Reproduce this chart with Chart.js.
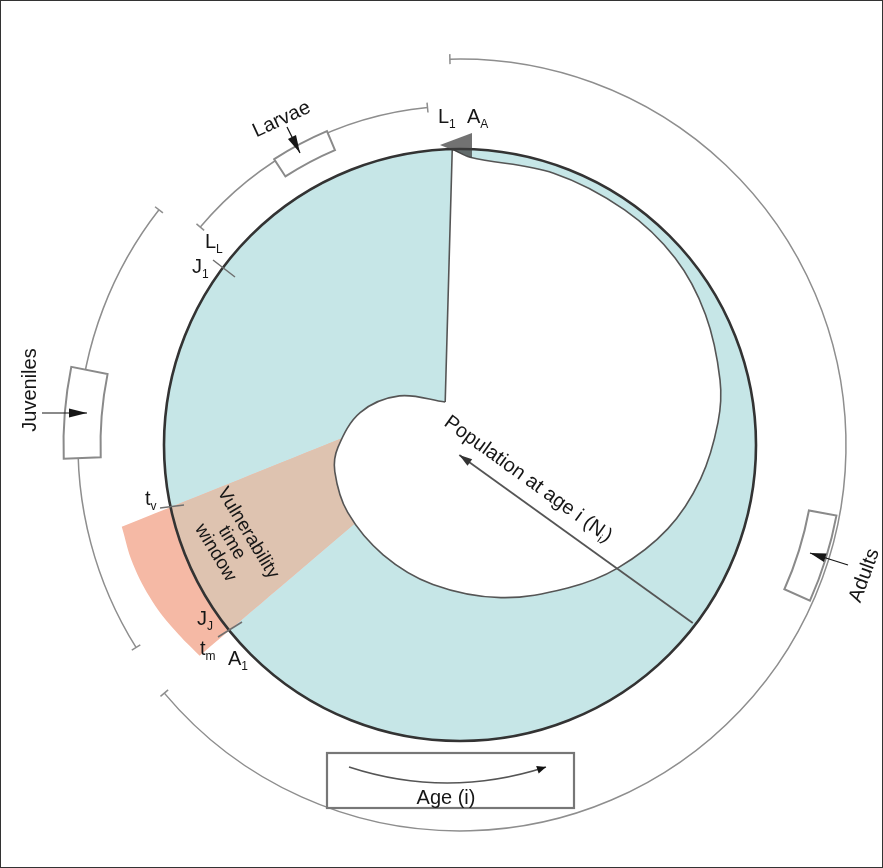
<!DOCTYPE html>
<html>
<head>
<meta charset="utf-8">
<title>Life cycle wheel</title>
<script src="https://cdn.jsdelivr.net/npm/chart.js@4.4.1/dist/chart.umd.min.js"></script>
<style>
  html, body { margin: 0; padding: 0; background: #fff; }
  #stage { position: relative; width: 883px; height: 868px; }
  canvas { display: block; }
</style>
</head>
<body>
<div id="stage"><canvas id="wheel" width="883" height="868"></canvas></div>
<script>
// all lengths in px, measured from the centre of the ring; angles clockwise from 12 o'clock
const RING_R = 296;

// white core (what is left of the population): boundary angle / radius
const coreAngle  = [2, 19, 35, 49, 62, 76, 85, 98, 112, 128, 143, 165, 191, 215, 239, 258, 269, 288, 309];
const coreRadius = [288, 287.5, 287, 285, 278, 268, 259, 243, 224, 200, 179, 158, 142, 134, 131, 128, 122, 105, 78];
// straight seam of the core: top (on the ring) and inner notch
const seamAngle  = [-1.5, 341];
const seamRadius = [296, 45.5];

// vulnerability time window
const windowOuterAngle  = [256.4, 250, 243, 237, 231];
const windowOuterRadius = [348, 348, 345, 340, 335];
const windowInnerAngle  = [276.5, 233.5];
const windowInnerRadius = [105.7, 124.4];
const windowRingAngle   = [231.3, 240, 249, 257.8];

// population arrow N_i: on the ring -> near the centre
const popAngle  = [127.4, 184];
const popRadius = [293, 10];

// life stages: brackets outside the ring
const stageNames  = ['Larvae', 'Juveniles', 'Adults'];
const stageRadius = [339, 382, 386];
const stageFrom   = [310, 238, -1.5];
const stageTo     = [354.5, 308, 230];
const tagAngle  = [-28, 274.7, 107.3];
const tagRadius = [330.6, 378, 369];
const tagLength = [58, 88, 86];
const tagDepth  = [20.6, 37, 28];

// point labels round the ring
const markText = ['L', 'A', 'L', 'J', 't', 'J', 't', 'A'];
const markSub  = ['1', 'A', 'L', '1', 'v', 'J', 'm', '1'];

const TEAL = '#c6e6e7';
const SALMON = '#f5b9a5';
const TAN = '#dec3b0';
const INK = '#161616';
const FONT = '"Liberation Sans", Arial, Helvetica, sans-serif';

const rad = d => d * Math.PI / 180;
const polar = (a, r) => ({ x: r * Math.sin(rad(a)), y: -r * Math.cos(rad(a)) });
// repeat corner points so the spline keeps straight edges straight
const corner = p => [p, p];

const seamPts = seamAngle.map((a, i) => polar(a, seamRadius[i]));
const curvePts = coreAngle.map((a, i) => polar(a, coreRadius[i]));
// notch -> top in a straight run, then round the spiral back to the notch
const corePts = [seamPts[1], ...corner(seamPts[0]), ...curvePts, seamPts[1]];

const innerPts = windowInnerAngle.map((a, i) => polar(a, windowInnerRadius[i]));
const outerPts = windowOuterAngle.map((a, i) => polar(a, windowOuterRadius[i]));
const windowPts = [
  ...outerPts.slice(0, -1), ...corner(outerPts[outerPts.length - 1]),
  ...corner(innerPts[1]), ...corner(innerPts[0]), ...corner(outerPts[0])
];
const ringPts = windowRingAngle.map(a => polar(a, RING_R));
const windowRingPts = [
  ...ringPts.slice(0, -1), ...corner(ringPts[ringPts.length - 1]),
  ...corner(innerPts[0]), ...corner(innerPts[1]), ...corner(ringPts[0])
];
const popPts = popAngle.map((a, i) => polar(a, popRadius[i]));

const at = (chart, x, y) => ({ X: chart.scales.x.getPixelForValue(x), Y: chart.scales.y.getPixelForValue(y) });
const polarAt = (chart, a, r) => { const p = polar(a, r); return at(chart, p.x, p.y); };
const span = (chart, r) => chart.scales.x.getPixelForValue(r) - chart.scales.x.getPixelForValue(0);
const ringPx = c => span(c.chart, RING_R);

function line(ctx, p, q) {
  ctx.beginPath(); ctx.moveTo(p.X, p.Y); ctx.lineTo(q.X, q.Y); ctx.stroke();
}

function arrowHead(ctx, tip, from, len, wid) {
  const dx = tip.X - from.X, dy = tip.Y - from.Y, d = Math.hypot(dx, dy);
  const ux = dx / d, uy = dy / d;
  const bx = tip.X - ux * len, by = tip.Y - uy * len;
  ctx.beginPath();
  ctx.moveTo(tip.X, tip.Y);
  ctx.lineTo(bx - uy * wid / 2, by + ux * wid / 2);
  ctx.lineTo(bx + uy * wid / 2, by - ux * wid / 2);
  ctx.closePath();
  ctx.fill();
}

// text made of pieces, some of them subscripts; centred on (x, y)
function rich(ctx, parts, x, y, rot, size) {
  const sub = Math.round(size * 0.62);
  ctx.save();
  ctx.translate(x, y);
  ctx.rotate(rad(rot));
  ctx.textBaseline = 'alphabetic';
  ctx.textAlign = 'left';
  const w = parts.map(p => { ctx.font = `${p[1] ? sub : size}px ${FONT}`; return ctx.measureText(p[0]).width; });
  let cx = -w.reduce((s, v) => s + v, 0) / 2;
  parts.forEach((p, i) => {
    ctx.font = `${p[1] ? sub : size}px ${FONT}`;
    ctx.fillText(p[0], cx, size * 0.36 + (p[1] ? size * 0.22 : 0));
    cx += w[i];
  });
  ctx.restore();
}

const decor = {
  id: 'decor',
  beforeDatasetsDraw(chart) {
    const { ctx } = chart;
    const o = at(chart, 0, 0);
    ctx.save();
    // stage brackets with end ticks
    ctx.strokeStyle = '#8e8e8e';
    ctx.lineWidth = 1.5;
    stageNames.forEach((_, i) => {
      ctx.beginPath();
      ctx.arc(o.X, o.Y, span(chart, stageRadius[i]), rad(stageFrom[i] - 90), rad(stageTo[i] - 90));
      ctx.stroke();
      [stageFrom[i], stageTo[i]].forEach(a => {
        line(ctx, polarAt(chart, a, stageRadius[i] - 5), polarAt(chart, a, stageRadius[i] + 5));
      });
    });
    // stage tags
    ctx.lineWidth = 2;
    ctx.strokeStyle = '#8a8a8a';
    ctx.fillStyle = '#fff';
    tagAngle.forEach((a, i) => {
      const r = span(chart, tagRadius[i]), h = span(chart, tagDepth[i]) / 2;
      const half = tagLength[i] / 2 / tagRadius[i];
      const c = rad(a - 90);
      ctx.beginPath();
      ctx.arc(o.X, o.Y, r + h, c - half, c + half);
      ctx.arc(o.X, o.Y, r - h, c + half, c - half, true);
      ctx.closePath();
      ctx.fill();
      ctx.stroke();
    });
    // age box
    const b0 = at(chart, -133, 308), b1 = at(chart, 114, 363);
    ctx.lineWidth = 2.2;
    ctx.strokeStyle = '#777';
    ctx.fillRect(b0.X, b0.Y, b1.X - b0.X, b1.Y - b0.Y);
    ctx.strokeRect(b0.X, b0.Y, b1.X - b0.X, b1.Y - b0.Y);
    ctx.restore();
  },
  afterDatasetsDraw(chart) {
    const { ctx } = chart;
    ctx.save();
    // small marks across the ring
    ctx.strokeStyle = '#6f6f6f';
    ctx.lineWidth = 1.5;
    line(ctx, at(chart, -247, -185), at(chart, -225, -168));
    line(ctx, at(chart, -300, 63), at(chart, -276, 60));
    line(ctx, at(chart, -242, 192), at(chart, -218, 177));

    // arrowhead where the core closes on itself at the top
    ctx.fillStyle = 'rgba(60,60,60,0.72)';
    const t0 = at(chart, -20, -300), t1 = at(chart, 12, -312), t2 = at(chart, 12, -287);
    ctx.beginPath(); ctx.moveTo(t0.X, t0.Y); ctx.lineTo(t1.X, t1.Y); ctx.lineTo(t2.X, t2.Y); ctx.closePath(); ctx.fill();

    // N_i arrowhead
    const pf = at(chart, popPts[0].x, popPts[0].y), pt = at(chart, popPts[1].x, popPts[1].y);
    ctx.fillStyle = '#333';
    arrowHead(ctx, pt, pf, 13, 8);

    // stage label arrows
    ctx.strokeStyle = INK;
    ctx.fillStyle = INK;
    ctx.lineWidth = 1.2;
    const arrows = [[-173, -318, -160, -292, 18], [-418, -32, -373, -32, 18], [388, 120, 350, 108, 16]];
    arrows.forEach(([x0, y0, x1, y1, hl]) => {
      const f = at(chart, x0, y0), t = at(chart, x1, y1);
      line(ctx, f, t);
      arrowHead(ctx, t, f, hl, 9);
    });

    // age arrow in the box
    const a0 = at(chart, -111, 322), ac = at(chart, -13, 354), a1 = at(chart, 86, 322);
    ctx.strokeStyle = '#555';
    ctx.lineWidth = 1.6;
    ctx.beginPath(); ctx.moveTo(a0.X, a0.Y); ctx.quadraticCurveTo(ac.X, ac.Y, a1.X, a1.Y); ctx.stroke();
    ctx.fillStyle = '#111';
    arrowHead(ctx, a1, ac, 9, 8);

    // texts
    ctx.fillStyle = INK;
    const S = 20;
    const lab = (x, y) => at(chart, x, y);
    let p = lab(-179, -327); rich(ctx, [['Larvae']], p.X, p.Y, -25, S);
    p = lab(-431, -55); rich(ctx, [['Juveniles']], p.X, p.Y, -90, S);
    p = lab(403, 130); rich(ctx, [['Adults']], p.X, p.Y, -70, S);
    p = lab(-14, 352); rich(ctx, [['Age (i)']], p.X, p.Y, 0, S);
    p = lab(69, 33); rich(ctx, [['Population at age i (N'], ['i', true], [')']], p.X, p.Y, 35.8, S);

    // vulnerability window, three lines
    const vr = 59, perp = [-Math.sin(rad(vr)), Math.cos(rad(vr))];
    ['Vulnerability', 'time', 'window'].forEach((t, i) => {
      const k = (i - 1) * 19;
      const q = lab(-227 + perp[0] * k, 97 + perp[1] * k);
      rich(ctx, [[t]], q.X, q.Y, vr, 19);
    });

    // point labels with subscripts, left/baseline anchored
    const markX = [-22, 7, -255, -268, -315, -263, -260, -232];
    const markY = [-322, -322, -197, -172, 60, 180, 210, 220];
    ctx.textAlign = 'left';
    ctx.textBaseline = 'alphabetic';
    markText.forEach((t, i) => {
      const q = lab(markX[i], markY[i]);
      ctx.font = `${S}px ${FONT}`;
      ctx.fillText(t, q.X, q.Y);
      const w = ctx.measureText(t).width;
      ctx.font = `12px ${FONT}`;
      ctx.fillText(markSub[i], q.X + w, q.Y + 5);
    });

    // frame
    ctx.strokeStyle = '#333';
    ctx.lineWidth = 1;
    ctx.strokeRect(0.5, 0.5, chart.width - 1, chart.height - 1);
    ctx.restore();
  }
};

new Chart(document.getElementById('wheel'), {
  type: 'scatter',
  data: {
    datasets: [
      { label: 'ring', data: [{ x: 0, y: 0 }], pointRadius: ringPx, pointHoverRadius: ringPx,
        backgroundColor: TEAL, borderWidth: 0, order: 10 },
      { label: 'window', data: windowPts, showLine: true, fill: 'shape', backgroundColor: SALMON,
        borderWidth: 0, pointRadius: 0, tension: 0.4, order: 9 },
      { label: 'window in ring', data: windowRingPts, showLine: true, fill: 'shape', backgroundColor: TAN,
        borderWidth: 0, pointRadius: 0, tension: 0.4, order: 8 },
      { label: 'core', data: corePts, showLine: true, fill: 'shape', backgroundColor: '#ffffff',
        borderColor: '#555', borderWidth: 1.6, pointRadius: 0, tension: 0.35, order: 7 },
      { label: 'ring edge', data: [{ x: 0, y: 0 }], pointRadius: ringPx, pointHoverRadius: ringPx,
        backgroundColor: 'rgba(0,0,0,0)', borderColor: '#333', borderWidth: 2.6, order: 6 },
      { label: 'N_i', data: popPts, showLine: true, borderColor: '#555', borderWidth: 1.8,
        pointRadius: 0, order: 5 }
    ]
  },
  options: {
    responsive: false,
    animation: false,
    events: [],
    layout: { padding: 0 },
    plugins: { legend: { display: false }, tooltip: { enabled: false } },
    scales: {
      x: { type: 'linear', min: -460, max: 423, display: false },
      y: { type: 'linear', min: -445, max: 423, reverse: true, display: false }
    }
  },
  plugins: [decor]
});
</script>
</body>
</html>
